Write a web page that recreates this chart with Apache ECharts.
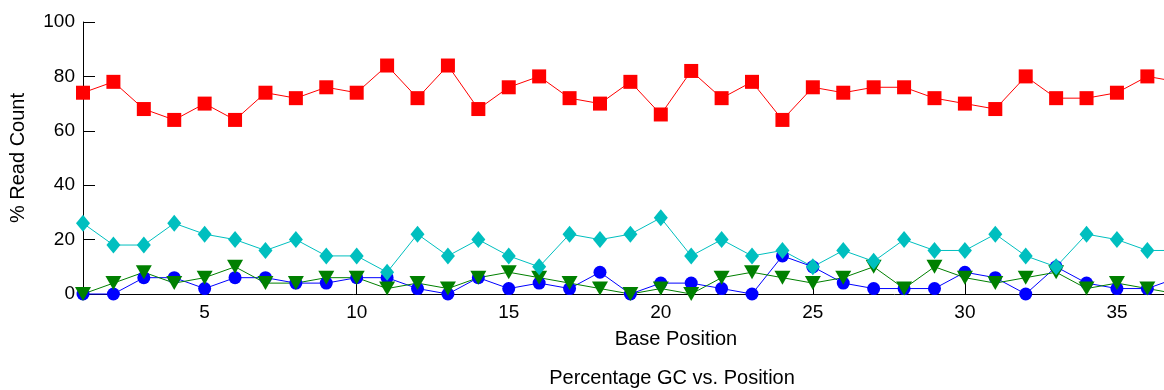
<!DOCTYPE html>
<html>
<head>
<meta charset="utf-8">
<script src="https://cdn.jsdelivr.net/npm/echarts@6/dist/echarts.min.js"></script>
<style>
html,body{margin:0;padding:0;background:#fff;}
#chart{width:1164px;height:390px;}
</style>
</head>
<body>
<div id="chart"></div>
<script>
var positions = [1,2,3,4,5,6,7,8,9,10,11,12,13,14,15,16,17,18,19,20,21,22,23,24,25,26,27,28,29,30,31,32,33,34,35,36,37];
var redValues = [74,78,68,64,70,64,74,72,76,74,84,72,84,68,76,80,72,70,78,66,82,72,78,64,76,74,76,76,72,70,68,80,72,72,74,80,78];
var blueValues = [0,0,6,6,2,6,6,4,4,6,6,2,0,6,2,4,2,8,0,4,4,2,0,14,10,4,2,2,2,8,6,0,10,4,2,2,6];
var greenValues = [0,4,8,4,6,10,4,4,6,6,2,4,2,6,8,6,4,2,0,2,0,6,8,6,4,6,10,2,10,6,4,6,8,2,4,2,0];
var cyanValues = [26,18,18,26,22,20,16,20,14,14,8,22,14,20,14,10,22,20,22,28,14,20,14,16,10,16,12,20,16,16,22,14,10,22,20,16,16];
var xTicks = [5,10,15,20,25,30,35,40];
var yTicks = [0,20,40,60,80,100];

function pairs(vals){ return positions.map(function(p,i){ return [p, vals[i]]; }); }

var FONT = 'Liberation Sans, Arial, sans-serif';
var chart = echarts.init(document.getElementById('chart'), null, {renderer:'canvas'});
chart.setOption({
  animation: false,
  backgroundColor: '#ffffff',
  grid: { left: 83, top: 22, bottom: 96, width: 1186, containLabel: false, outerBoundsMode: 'none' },
  xAxis: {
    type: 'value', min: 1, max: 40,
    name: 'Base Position', nameLocation: 'middle', nameGap: 35,
    nameTextStyle: { color: '#000', fontSize: 20, fontFamily: FONT },
    axisLine: { show: true, lineStyle: { color: '#000', width: 1 } },
    axisTick: { show: true, inside: true, length: 12, customValues: xTicks, lineStyle: { color: '#000' } },
    axisLabel: { customValues: xTicks, color: '#000', fontSize: 19, fontFamily: FONT, margin: 9 },
    splitLine: { show: false }
  },
  yAxis: {
    type: 'value', min: 0, max: 100, interval: 20,
    name: '% Read Count', nameLocation: 'middle', nameGap: 55,
    nameTextStyle: { color: '#000', fontSize: 20, fontFamily: FONT },
    axisLine: { show: true, lineStyle: { color: '#000', width: 1 } },
    axisTick: { show: true, inside: true, length: 12, customValues: yTicks, lineStyle: { color: '#000' } },
    axisLabel: { customValues: yTicks, color: '#000', fontSize: 19, fontFamily: FONT, margin: 8 },
    splitLine: { show: false }
  },
  graphic: [{
    type: 'text', x: 672, y: 378,
    style: { text: 'Percentage GC vs. Position', fill: '#000', font: '20px ' + FONT, align: 'center', verticalAlign: 'middle' }
  }],
  series: [
    { name: 'Red', type: 'line', data: pairs(redValues), symbol: 'rect', symbolSize: 14,
      lineStyle: { color: '#ff0000', width: 1 }, itemStyle: { color: '#ff0000' }, clip: false },
    { name: 'Blue', type: 'line', data: pairs(blueValues), symbol: 'circle', symbolSize: 13,
      lineStyle: { color: '#0000ff', width: 1 }, itemStyle: { color: '#0000ff' }, clip: false },
    { name: 'Green', type: 'line', data: pairs(greenValues), symbol: 'triangle', symbolRotate: 180, symbolSize: [16, 14],
      lineStyle: { color: '#008000', width: 1 }, itemStyle: { color: '#008000' }, clip: false },
    { name: 'Cyan', type: 'line', data: pairs(cyanValues), symbol: 'diamond', symbolSize: [14, 17],
      lineStyle: { color: '#00bfbf', width: 1 }, itemStyle: { color: '#00bfbf' }, clip: false }
  ]
});
</script>
</body>
</html>
